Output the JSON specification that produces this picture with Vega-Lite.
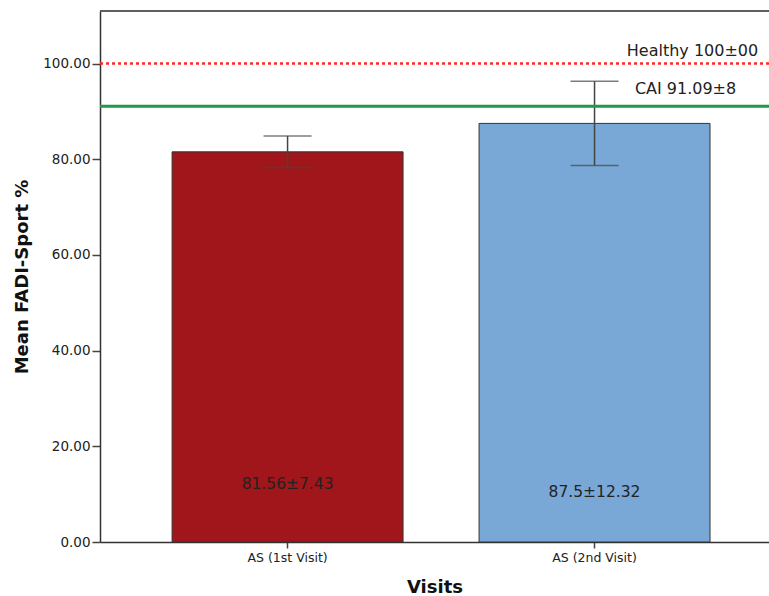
{
  "$schema": "https://vega.github.io/schema/vega-lite/v6.json",
  "width": 669,
  "height": 531,
  "autosize": {"type": "none"},
  "padding": {"left": 100, "top": 11, "right": 0, "bottom": 54},
  "config": {
    "view": {"stroke": null},
    "font": "DejaVu Sans",
    "axis": {
      "domainColor": "#333333",
      "domainWidth": 1.5,
      "tickColor": "#444444",
      "tickWidth": 1.5,
      "grid": false,
      "labelColor": "#222222",
      "titleColor": "#111111",
      "labelFont": "DejaVu Sans",
      "titleFont": "DejaVu Sans"
    }
  },
  "datasets": {
    "visits": [
      {"visit": "AS (1st Visit)", "mean": 81.56, "lo": 78.26, "hi": 84.86, "label": "81.56±7.43"},
      {"visit": "AS (2nd Visit)", "mean": 87.5, "lo": 78.7, "hi": 96.3, "label": "87.5±12.32"}
    ],
    "references": [
      {"name": "Healthy 100±00", "value": 100},
      {"name": "CAI 91.09±8", "value": 91.09}
    ]
  },
  "data": {"name": "visits"},
  "layer": [
    {
      "mark": {"type": "bar", "stroke": "#333333", "strokeWidth": 1},
      "encoding": {
        "x": {
          "field": "visit",
          "type": "nominal",
          "sort": null,
          "title": "Visits",
          "scale": {"paddingInner": 0.2476, "paddingOuter": 0.2135, "align": 0.55},
          "axis": {
            "labelAngle": 0,
            "labelFontSize": 12.5,
            "labelPadding": 3,
            "tickSize": 6,
            "titleFontSize": 18,
            "titleFontWeight": "bold",
            "titlePadding": 15
          }
        },
        "y": {
          "field": "mean",
          "type": "quantitative",
          "title": "Mean FADI-Sport %",
          "scale": {"domain": [0, 111], "nice": false, "zero": true},
          "axis": {
            "values": [0, 20, 40, 60, 80, 100],
            "format": ".2f",
            "labelFontSize": 13.5,
            "labelPadding": 2,
            "tickSize": 8,
            "titleFontSize": 18,
            "titleFontWeight": "bold",
            "titlePadding": 11
          }
        },
        "color": {
          "field": "visit",
          "type": "nominal",
          "scale": {"range": ["#a0161a", "#7aa8d6"]},
          "legend": null
        }
      }
    },
    {
      "mark": {"type": "rule", "color": "#444444", "strokeWidth": 1.5},
      "encoding": {
        "x": {"field": "visit", "type": "nominal", "sort": null},
        "y": {"field": "lo", "type": "quantitative", "title": "Mean FADI-Sport %"},
        "y2": {"field": "hi"}
      }
    },
    {
      "mark": {"type": "tick", "color": "#444444", "size": 48, "thickness": 1.5},
      "encoding": {
        "x": {"field": "visit", "type": "nominal", "sort": null},
        "y": {"field": "lo", "type": "quantitative", "title": "Mean FADI-Sport %"}
      }
    },
    {
      "mark": {"type": "tick", "color": "#444444", "size": 48, "thickness": 1.5},
      "encoding": {
        "x": {"field": "visit", "type": "nominal", "sort": null},
        "y": {"field": "hi", "type": "quantitative", "title": "Mean FADI-Sport %"}
      }
    },
    {
      "transform": [{"filter": "datum.visit === 'AS (1st Visit)'"}],
      "mark": {"type": "text", "fontSize": 15.5, "color": "#222222", "baseline": "middle"},
      "encoding": {
        "x": {"field": "visit", "type": "nominal", "sort": null},
        "y": {"datum": 12.2},
        "text": {"field": "label"}
      }
    },
    {
      "transform": [{"filter": "datum.visit === 'AS (2nd Visit)'"}],
      "mark": {"type": "text", "fontSize": 15.5, "color": "#222222", "baseline": "middle"},
      "encoding": {
        "x": {"field": "visit", "type": "nominal", "sort": null},
        "y": {"datum": 10.5},
        "text": {"field": "label"}
      }
    },
    {
      "data": {"name": "references"},
      "transform": [{"filter": "datum.value === 100"}],
      "mark": {"type": "rule", "color": "#ff2a2a", "strokeWidth": 2.5, "strokeDash": [3, 3]},
      "encoding": {
        "y": {"field": "value", "type": "quantitative", "title": "Mean FADI-Sport %"}
      }
    },
    {
      "data": {"name": "references"},
      "transform": [{"filter": "datum.value !== 100"}],
      "mark": {"type": "rule", "color": "#1e9a4a", "strokeWidth": 3},
      "encoding": {
        "y": {"field": "value", "type": "quantitative", "title": "Mean FADI-Sport %"}
      }
    },
    {
      "data": {"name": "references"},
      "transform": [{"filter": "datum.value === 100"}],
      "mark": {"type": "text", "fontSize": 16, "color": "#222222", "baseline": "middle", "align": "center", "dx": 98, "dy": -13},
      "encoding": {
        "x": {"datum": "AS (2nd Visit)"},
        "y": {"field": "value", "type": "quantitative", "title": "Mean FADI-Sport %"},
        "text": {"field": "name"}
      }
    },
    {
      "data": {"name": "references"},
      "transform": [{"filter": "datum.value !== 100"}],
      "mark": {"type": "text", "fontSize": 16, "color": "#222222", "baseline": "middle", "align": "center", "dx": 91, "dy": -17},
      "encoding": {
        "x": {"datum": "AS (2nd Visit)"},
        "y": {"field": "value", "type": "quantitative", "title": "Mean FADI-Sport %"},
        "text": {"field": "name"}
      }
    },
    {
      "mark": {"type": "rule", "color": "#555555", "strokeWidth": 1.5},
      "encoding": {
        "y": {"datum": 111}
      }
    }
  ]
}
